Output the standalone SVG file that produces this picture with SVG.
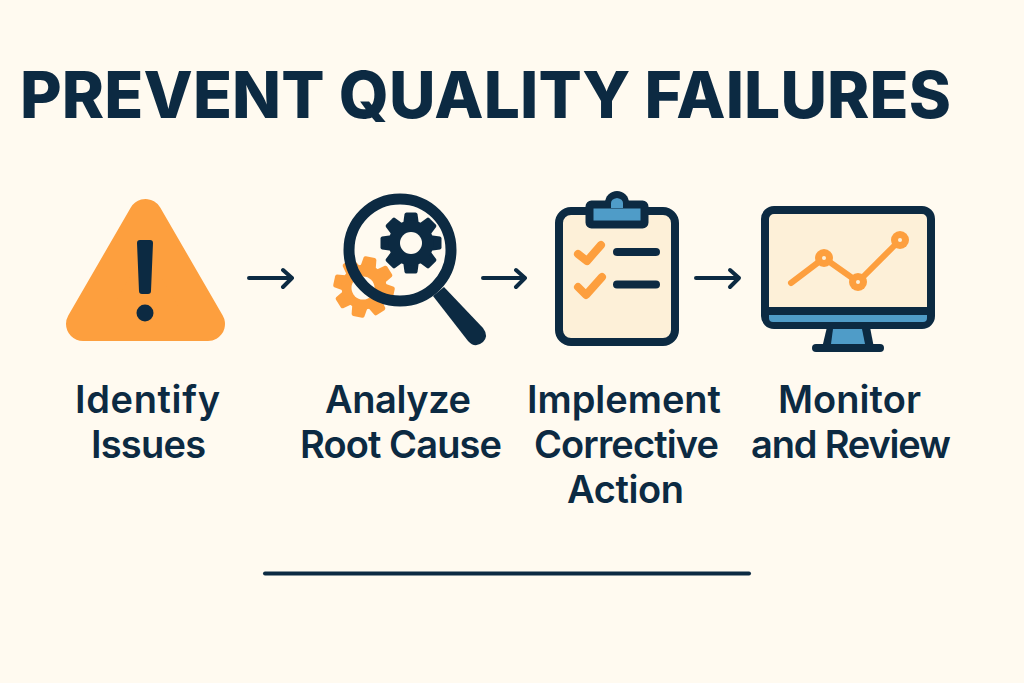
<svg xmlns="http://www.w3.org/2000/svg" width="1024" height="683" viewBox="0 0 1024 683">
<style>
.t{font-family:"Inter","Liberation Sans",sans-serif;fill:#0c2a42}
.h{font-size:64px;font-weight:800}
.l{font-size:38px;font-weight:600}
.d{fill:none;stroke:#0c2a42;stroke-linecap:round;stroke-linejoin:round}
.o{fill:none;stroke:#fd9f3e;stroke-linecap:round;stroke-linejoin:round}
.cn{fill:none;stroke:#0c2a42;stroke-width:4;stroke-linecap:round;stroke-linejoin:round}
</style>
<defs>
<path id="tooth" d="M-4.500 -30.500H4.500Q6 -30.500 6.500 -29L8 -18H-8L-6.500 -29Q-6 -30.500 -4.500 -30.500Z"/>
<g id="teeth">
<use href="#tooth"/>
<use href="#tooth" transform="rotate(45)"/>
<use href="#tooth" transform="rotate(90)"/>
<use href="#tooth" transform="rotate(135)"/>
<use href="#tooth" transform="rotate(180)"/>
<use href="#tooth" transform="rotate(225)"/>
<use href="#tooth" transform="rotate(270)"/>
<use href="#tooth" transform="rotate(315)"/>
<circle r="22.500"/>
</g>
</defs>
<rect width="1024" height="683" fill="#fffaf0"/>
<text id="title" class="t h" x="20" y="118" textLength="931" lengthAdjust="spacing">PREVENT QUALITY FAILURES</text>
<g id="connectors">
<path class="cn" d="M249 278H292M283 270L292 278L283 287"/>
<path class="cn" d="M483 278H525M516 270L525 278L516 287"/>
<path class="cn" d="M696 278H739M730 270L739 278L730 287"/>
<path class="cn" d="M265 573.500H749"/>
</g>
<g id="identify">
<polygon points="145.500,216 208,324 83,324" fill="#fd9f3e" stroke="#fd9f3e" stroke-width="34" stroke-linejoin="round"/>
<path d="M140 240H150Q153 240 153 243L151 291Q151 294 148 294H142Q139 294 139 291L137 243Q137 240 140 240Z" fill="#0c2a42"/>
<circle cx="145" cy="313" r="8.500" fill="#0c2a42"/>
<text class="t l" x="75" y="413" textLength="145">Identify</text>
<text class="t l" x="91" y="458" textLength="115">Issues</text>
</g>
<g id="analyze">
<g fill="#fd9f3e" transform="translate(364 287) rotate(12)"><use href="#teeth"/></g>
<circle cx="363" cy="288" r="11.500" fill="#fffaf0"/>
<g fill="#0c2a42" transform="translate(411 243)"><use href="#teeth"/></g>
<circle cx="411" cy="243" r="11" fill="#fffaf0"/>
<circle cx="400" cy="250" r="51" fill="none" stroke="#0c2a42" stroke-width="11"/>
<path d="M433 296L444 287L483 328Q489 336 483 342Q475 349 468 341Z" fill="#0c2a42"/>
<text class="t l" x="325" y="413" textLength="146">Analyze</text>
<text class="t l" x="300" y="458" textLength="202">Root Cause</text>
</g>
<g id="implement">
<rect x="559" y="211" width="116" height="131" rx="12" fill="#fdf0d8" stroke="#0c2a42" stroke-width="8"/>
<circle cx="617" cy="203" r="12" fill="#0c2a42"/>
<rect x="589.500" y="204.500" width="55" height="20" rx="2" fill="#4f9cc8" stroke="#0c2a42" stroke-width="8" stroke-linejoin="round"/>
<path d="M611 217V203Q611 199 617 198Q623 199 623 203V208H611Z" fill="#4f9cc8"/>
<path class="o" stroke-width="8" d="M578 254L587 261L601 245M578 287L586 295L602 277"/>
<path class="d" stroke-width="8" d="M617 252H656M617 284.500H656"/>
<text class="t l" x="527" y="413" textLength="194">Implement</text>
<text class="t l" x="534" y="458" textLength="185">Corrective</text>
<text class="t l" x="567" y="503" textLength="117">Action</text>
</g>
<g id="monitor">
<path d="M827 327H870L874 348H822Z" fill="#0c2a42"/>
<path d="M833 329H862L865 344H831Z" fill="#4f9cc8"/>
<path class="d" stroke-width="8" d="M816 348H880"/>
<rect x="765" y="210" width="166" height="115" rx="9" fill="#fdf0d8" stroke="#0c2a42" stroke-width="8"/>
<rect x="768" y="307" width="160" height="16" fill="#0c2a42"/>
<path d="M769 315H927V318Q927 322 923 322H773Q769 322 769 318Z" fill="#4f9cc8"/>
<path class="o" stroke-width="6" d="M791 283L824 258L858 282L900 240"/>
<g fill="#fd9f3e"><circle cx="824" cy="258" r="9"/><circle cx="858" cy="282" r="9"/><circle cx="900" cy="240" r="9"/></g>
<g fill="#fdf0d8"><circle cx="824" cy="258" r="2"/><circle cx="858" cy="282" r="2"/><circle cx="900" cy="240" r="2"/></g>
<text class="t l" x="778" y="413" textLength="143">Monitor</text>
<text class="t l" x="751" y="458" textLength="200">and Review</text>
</g>
</svg>
